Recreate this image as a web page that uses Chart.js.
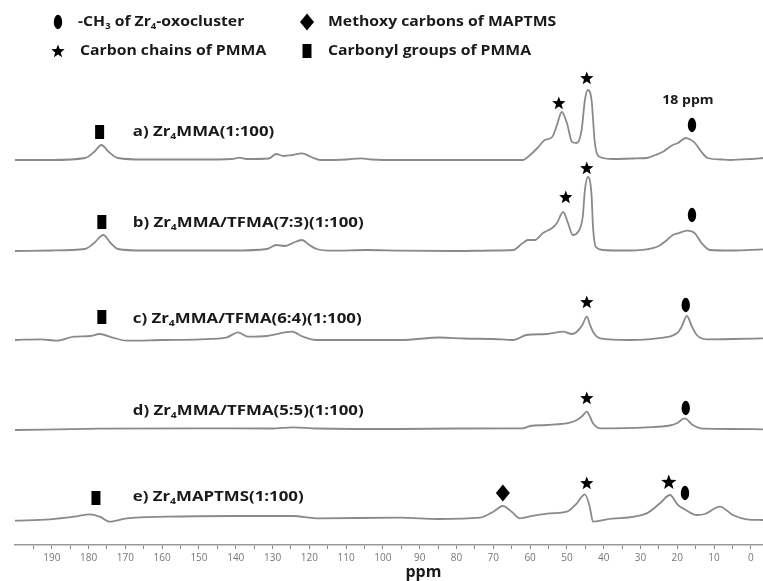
<!DOCTYPE html>
<html><head><meta charset="utf-8">
<script src="https://cdn.jsdelivr.net/npm/chart.js@4/dist/chart.umd.min.js"></script>
<style>html,body{margin:0;padding:0;background:#fff;}#wrap{width:763px;height:581px;position:relative;}</style>
</head><body><div id="wrap"><canvas id="c" width="763" height="581"></canvas></div>
<script>
// ---------- DATA ----------
const sampleLabels = ['a) Zr{4}MMA(1:100)', 'b) Zr{4}MMA/TFMA(7:3)(1:100)', 'c) Zr{4}MMA/TFMA(6:4)(1:100)', 'd) Zr{4}MMA/TFMA(5:5)(1:100)', 'e) Zr{4}MAPTMS(1:100)'];
const baselineOffsets = [385, 294, 205, 116, 27];
const majorTicks = [190,180,170,160,150,140,130,120,110,100,90,80,70,60,50,40,30,20,10,0];
const minorTicks = [195,185,175,165,155,145,135,125,115,105,95,85,75,65,55,45,35,25,15,5];

const ppmA = [200,190,181,178.5,176.5,174.5,172,165,150,141,139,137,131,129,127,124.5,122,119.5,117,110,106,103,95,80,70,62,60,58,56,54,52.7,51.4,50,48.6,47.3,46,45.1,44.3,43.3,42.4,41,37.5,32,28.3,26,24,22.5,21.2,19.8,17.7,16.5,15.2,13.4,11.7,8,5.7,0,-3.3];
const intA = [0,0,2,8,15,8,2,0.5,0.5,1,2.3,1,1.5,6,4,5,6.7,3,0,0.5,1.7,0.5,0,0,0,0,5,12,20,23,35,48,37,18,17,30,60,70,60,17,3,1,1.5,2,5,8,12,15,17,22,20.5,17,8,2,0.5,0,1,2];

const ppmB = [200,190,181,178.5,176,174,172,165,141,131.5,129,126.6,124.7,122,120,118,113.6,104.4,95,80,70,64.6,62,60.6,58.7,56.5,54,52.7,51,49.7,48.4,47,45.7,45.1,44.3,43.3,42.9,42.1,40.2,35,28.3,25,22.8,21.2,19.8,17.4,15.2,13.4,11.1,5,-3.3];
const intB = [0,0.5,2,8,16,8,2,0.5,0.5,2,6,5,7.7,11,6,2,0.3,1,0.3,0,0.5,1,8,11,11,18,23,28,39,28,16,19,34,61,74,56,24,4,1,0.5,1.7,5,11,16,17.7,20.3,17.7,8,1,0.5,1.7];

const ppmC = [200,193,188.6,184,179.6,177,173.4,169.6,160,149.7,142.4,139.4,136.7,131.5,124.7,121.7,118,95,84.5,78,70,64.6,61,55.5,51,48.6,47.3,45.8,44.6,43.7,42.9,41,32.9,25.5,20.1,18.8,17.4,16,14.7,12,5,-3.3];
const intC = [0,0.7,-0.7,3.3,4,6,2.3,-0.7,0,0.7,2.7,7.7,3.3,4,8.3,3.3,0,0,2.5,1.5,1,0,5,6,8.3,6,8.3,15,23.3,15,8.3,1.7,0,1.7,6.7,13.3,24,13.3,5,0.7,1,1.7];

const ppmD = [200,177,150,130,124.4,118,95,80,62,60,55.5,49.2,47.3,45.8,44.6,43.7,42.9,41,28.3,22,20.1,18,15.8,13,5,-3.3];
const intD = [-1,0.3,0.7,0.5,1.7,0.5,0,0.5,0.7,3,4,6.3,9,13,17.3,12,5.7,0.7,1.7,3.5,5.7,10.7,4,0.3,0,-0.3];

const ppmE = [200,190.5,184,179.6,177,174.2,169.6,158.7,140.8,124.4,118,95.4,85,73.6,70,67.4,65,62.8,59.2,54.6,50,47.3,45.1,43.8,42.9,39.2,28.3,24.7,22,19.8,18,14.7,12.5,8.4,4.9,1.1,-3.3];
const intE = [-2.7,-1.3,1.3,3.7,1.3,-3.7,-0.3,1.3,2,2,-0.3,0.3,-1,0.3,6.3,12,6.3,-0.3,2.3,4.7,6.3,14.7,23.7,11.3,-3.7,-1.3,4.7,14.7,23,13,8.7,3,4,11.3,3,-1.3,-2];

const seriesPpm = [ppmA, ppmB, ppmC, ppmD, ppmE];
const seriesInt = [intA, intB, intC, intD, intE];

// annotation markers: trace index, ppm, height above that trace's baseline, type
const markerTrace = [0,0,0,0, 1,1,1,1, 2,2,2, 3,3, 4,4,4,4,4];
const markerPpm   = [177,52.2,44.6,16, 176.4,50.3,44.6,16, 176.4,44.6,17.7, 44.6,17.7, 178,67.4,44.6,22.3,17.9];
const markerH     = [28,57,82,35, 29,54,83,36, 23,38,35, 31,21, 20,25,35,36,25];
const markerType  = ['rect','star','star','ellipse','rect','star','star','ellipse','rect','star','ellipse','star','ellipse','rect','diamond','star','bigstar','ellipse'];
const labelPpm = 168;
const labelH = [28, 28, 21, 18, 21];

const legendTexts = ['-CH{3} of Zr{4}-oxocluster', 'Methoxy carbons of MAPTMS', 'Carbon chains of PMMA', 'Carbonyl groups of PMMA'];
const legendTypes = ['ellipse', 'diamond', 'star', 'rect'];

// ---------- DRAW ----------
const LINE = '#8a8a8a';
const FONT = '"Open Sans", "Liberation Sans", sans-serif';

function drawShape(ctx, type, x, y) {
  ctx.save();
  ctx.fillStyle = '#000';
  ctx.beginPath();
  if (type === 'ellipse') {
    ctx.ellipse(x, y, 4.2, 7.2, 0, 0, Math.PI * 2);
  } else if (type === 'rect') {
    ctx.rect(x - 4.5, y - 7, 9, 14);
  } else if (type === 'diamond') {
    ctx.moveTo(x, y - 8.5); ctx.lineTo(x + 7, y); ctx.lineTo(x, y + 8.5); ctx.lineTo(x - 7, y); ctx.closePath();
  } else {
    const R = type === 'bigstar' ? 8 : 7, r = R * 0.42;
    for (let i = 0; i < 10; i++) {
      const rad = i % 2 === 0 ? R : r;
      const a = -Math.PI / 2 + i * Math.PI / 5;
      const px = x + rad * Math.cos(a), py = y + 0.5 + rad * Math.sin(a);
      if (i === 0) ctx.moveTo(px, py); else ctx.lineTo(px, py);
    }
    ctx.closePath();
  }
  ctx.fill();
  ctx.restore();
}

function drawRich(ctx, text, x, y, size, stretch) {
  const parts = text.split(/(\{[^}]*\})/).filter(s => s.length);
  ctx.save();
  ctx.translate(x, y);
  ctx.scale(stretch || 1, 1);
  ctx.fillStyle = '#1a1a1a';
  ctx.textBaseline = 'middle';
  ctx.textAlign = 'left';
  let cx = 0;
  for (const p of parts) {
    if (p[0] === '{') {
      const t = p.slice(1, -1);
      ctx.font = 'bold ' + Math.round(size * 0.62) + 'px ' + FONT;
      ctx.fillText(t, cx, size * 0.32);
      cx += ctx.measureText(t).width;
    } else {
      ctx.font = 'bold ' + size + 'px ' + FONT;
      ctx.fillText(p, cx, 0);
      cx += ctx.measureText(p).width;
    }
  }
  ctx.restore();
}

const annotations = {
  id: 'annotations',
  afterDatasetsDraw(chart) {
    const ctx = chart.ctx, xs = chart.scales.x, ys = chart.scales.y;
    for (let i = 0; i < markerType.length; i++) {
      const px = xs.getPixelForValue(markerPpm[i]);
      const py = ys.getPixelForValue(baselineOffsets[markerTrace[i]] + markerH[i]);
      drawShape(ctx, markerType[i], px, py);
    }
    for (let i = 0; i < sampleLabels.length; i++) {
      drawRich(ctx, sampleLabels[i], xs.getPixelForValue(labelPpm), ys.getPixelForValue(baselineOffsets[i] + labelH[i]), 14.5, 1.16);
    }
    ctx.save();
    ctx.fillStyle = '#1a1a1a'; ctx.textAlign = 'center'; ctx.textBaseline = 'middle';
    ctx.translate(xs.getPixelForValue(17.1), ys.getPixelForValue(baselineOffsets[0] + 60));
    ctx.scale(1.08, 1);
    ctx.font = 'bold 13px ' + FONT;
    ctx.fillText('18 ppm', 0, 0);
    ctx.restore();
    ctx.save();
    ctx.fillStyle = '#1a1a1a'; ctx.textAlign = 'center'; ctx.textBaseline = 'middle';
    ctx.font = 'bold 16px ' + FONT;
    ctx.fillText('ppm', xs.getPixelForValue(89), 572);
    ctx.restore();
    const lx = [58, 307], tx = [78, 328], ly = [22, 51];
    for (let i = 0; i < 4; i++) {
      const col = i % 2, row = Math.floor(i / 2);
      drawShape(ctx, legendTypes[i], lx[col], ly[row]);
      drawRich(ctx, legendTexts[i], tx[col] + (i === 2 ? 2 : 0), ly[row], 15, 1.05);
    }
  }
};

const datasets = seriesPpm.map((ppm, k) => ({
  label: sampleLabels[k],
  data: ppm.map((p, i) => ({ x: p, y: baselineOffsets[k] + seriesInt[k][i] })),
  borderColor: LINE,
  borderWidth: 1.8,
  pointRadius: 0,
  fill: false,
  cubicInterpolationMode: 'monotone'
}));

new Chart(document.getElementById('c'), {
  type: 'line',
  data: { datasets },
  options: {
    responsive: false,
    animation: false,
    devicePixelRatio: 1,
    layout: { padding: { left: 15, right: 0, top: 0, bottom: 0 } },
    plugins: { legend: { display: false }, tooltip: { enabled: false }, title: { display: false } },
    scales: {
      x: {
        type: 'linear',
        reverse: true,
        min: -3.3,
        max: 200,
        afterBuildTicks(scale) {
          scale.ticks = majorTicks.concat(minorTicks).sort((a, b) => a - b).map(v => ({ value: v }));
        },
        afterFit(scale) { scale.height = 36; },
        ticks: {
          autoSkip: false, maxRotation: 0, minRotation: 0, padding: 3,
          color: '#777', font: { family: FONT, size: 10 },
          callback: v => majorTicks.includes(v) ? String(v) : ''
        },
        grid: { drawOnChartArea: false, drawTicks: true, tickLength: 4, color: '#888', lineWidth: 1 },
        border: { display: true, color: '#999', width: 1.5 }
      },
      y: { display: false, min: 0, max: 545 }
    }
  },
  plugins: [annotations]
});
</script>
</body></html>
